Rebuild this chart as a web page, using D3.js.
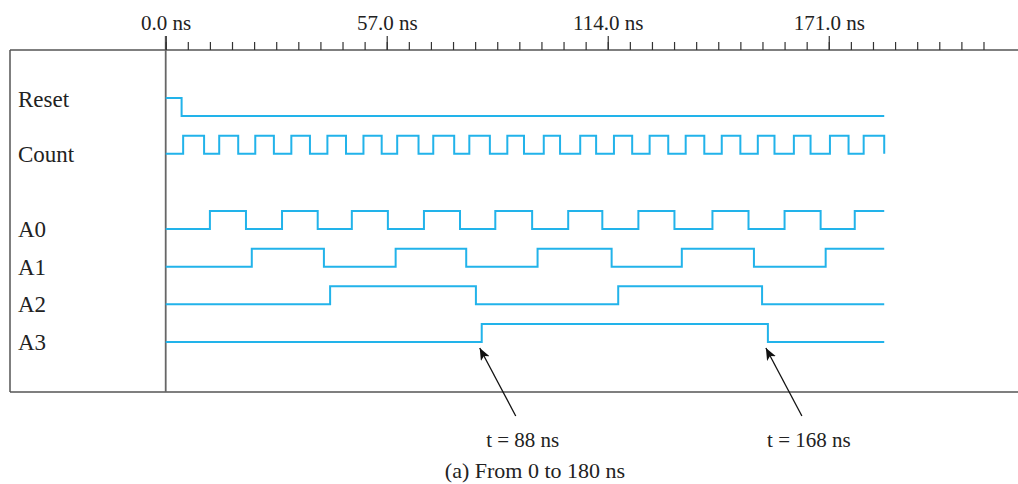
<!DOCTYPE html>
<html>
<head>
<meta charset="utf-8">
<script src="https://cdn.jsdelivr.net/npm/d3@7"></script>
<style>
  html, body { margin: 0; padding: 0; background: #fff; }
  svg { display: block; font-family: "Liberation Serif", "Times New Roman", serif; }
</style>
</head>
<body>
<svg id="chart" width="1018" height="484"></svg>
<script>
// ---- data (times in ns in axis units) ----
const signalNames = ["Reset", "Count", "A0", "A1", "A2", "A3"];
const rowSlots = ["Reset", "Count", "", "A0", "A1", "A2", "A3"];
const endTime = 185.3;

const resetInit = 1;
const resetEdges = [4.1];

const countInit = 0;
const countEdges = [4.5, 9.9, 13.8, 18.7, 23.1, 27.9, 32.4, 37.2, 41.7, 46.5, 51.0, 55.7,
  59.7, 65.2, 69.0, 74.4, 78.3, 83.6, 88.1, 92.4, 97.5, 101.7, 106.9, 111.0, 115.6, 120.3,
  124.8, 129.6, 134.1, 138.9, 143.4, 148.2, 152.7, 157.0, 162.0, 166.3, 171.3, 176.1, 180.0, 185.3];

const a0Init = 0;
const a0Edges = [11.4, 20.7, 30.0, 39.2, 48.0, 57.3, 66.6, 75.9, 85.0, 94.5, 103.8, 112.6,
  121.9, 131.2, 141.0, 150.3, 159.6, 168.9, 177.7];

const a1Init = 0;
const a1Edges = [22.2, 40.8, 59.3, 77.5, 95.9, 115.0, 133.1, 151.7, 170.2];

const a2Init = 0;
const a2Edges = [42.4, 80.0, 116.7, 153.8];

const a3Init = 0;
const a3Edges = [81.5, 155.3];

const majorTicks = [0, 57, 114, 171];
const majorTickLabels = ["0.0 ns", "57.0 ns", "114.0 ns", "171.0 ns"];
const minorTicks = d3.range(0, 38).map(i => +(i * 5.7).toFixed(1));

const annotationLabels = ["t = 88 ns", "t = 168 ns"];
const annotationEdgeIndex = [0, 1]; // edges of A3 they point at
const caption = "(a) From 0 to 180 ns";

// ---- drawing ----
const svg = d3.select("#chart");
const W = 1018;
const frameLeft = 10, frameTop = 50, frameBottom = 392;
const wave = "#22b3ea";
const ink = "#222";
const frameColor = "#555";

const x = d3.scaleLinear().domain([0, 219.8]).range([165.7, 1018]);
const row = d3.scalePoint().domain(rowSlots).range([116, 342]);
const amp = 18;

// frame
svg.append("line").attr("x1", frameLeft).attr("x2", W).attr("y1", frameTop).attr("y2", frameTop)
  .attr("stroke", frameColor).attr("stroke-width", 1.5);
svg.append("line").attr("x1", frameLeft).attr("x2", W).attr("y1", frameBottom).attr("y2", frameBottom)
  .attr("stroke", frameColor).attr("stroke-width", 1.5);
svg.append("line").attr("x1", frameLeft).attr("x2", frameLeft).attr("y1", frameTop).attr("y2", frameBottom)
  .attr("stroke", frameColor).attr("stroke-width", 1.5);
svg.append("line").attr("x1", x(0)).attr("x2", x(0)).attr("y1", 36).attr("y2", frameBottom)
  .attr("stroke", "#666").attr("stroke-width", 1.8);

// axes
const minorAxis = d3.axisTop(x).tickValues(minorTicks).tickSize(8).tickFormat("");
const gMinor = svg.append("g").attr("transform", `translate(0,${frameTop})`).call(minorAxis);
gMinor.select(".domain").remove();
gMinor.selectAll(".tick line").attr("stroke", "#333").attr("stroke-width", 1.2);

const majorAxis = d3.axisTop(x).tickValues(majorTicks).tickSize(14).tickPadding(6)
  .tickFormat((d, i) => majorTickLabels[i]);
const gMajor = svg.append("g").attr("transform", `translate(0,${frameTop})`).call(majorAxis);
gMajor.select(".domain").remove();
gMajor.selectAll(".tick line").attr("stroke", "#333").attr("stroke-width", 1.2);
gMajor.selectAll(".tick text").attr("font-family", "Liberation Serif, Times New Roman, serif")
  .attr("font-size", 21).attr("fill", ink);

// signals
const signals = [
  { name: "Reset", init: resetInit, edges: resetEdges },
  { name: "Count", init: countInit, edges: countEdges },
  { name: "A0", init: a0Init, edges: a0Edges },
  { name: "A1", init: a1Init, edges: a1Edges },
  { name: "A2", init: a2Init, edges: a2Edges },
  { name: "A3", init: a3Init, edges: a3Edges }
];

function toPoints(s) {
  let v = s.init;
  const pts = [[0, v]];
  s.edges.forEach(t => { v = 1 - v; pts.push([t, v]); });
  if (pts[pts.length - 1][0] < endTime) pts.push([endTime, v]);
  return pts;
}

signals.forEach(s => {
  const base = row(s.name);
  const line = d3.line().x(d => x(d[0])).y(d => base - d[1] * amp).curve(d3.curveStepAfter);
  svg.append("path").attr("d", line(toPoints(s)))
    .attr("fill", "none").attr("stroke", wave).attr("stroke-width", 2);
  svg.append("text").attr("x", 18).attr("y", base + (s.name === "Reset" ? -9 : 8))
    .attr("font-size", 23).attr("fill", ink).text(s.name);
});

// annotations
const defs = svg.append("defs");
defs.append("marker").attr("id", "arrow").attr("viewBox", "0 0 12 10")
  .attr("refX", 12).attr("refY", 5).attr("markerWidth", 12).attr("markerHeight", 10)
  .attr("markerUnits", "userSpaceOnUse").attr("orient", "auto")
  .append("path").attr("d", "M0,0 L12,5 L0,10 L3,5 Z").attr("fill", "#111");

const a3Base = row("A3");
annotationLabels.forEach((lab, i) => {
  const ex = x(a3Edges[annotationEdgeIndex[i]]);
  const tipX = ex - 2, tipY = a3Base + 6;
  const tailX = ex + 34, tailY = 416;
  svg.append("line").attr("x1", tailX).attr("y1", tailY).attr("x2", tipX).attr("y2", tipY)
    .attr("stroke", "#111").attr("stroke-width", 1.3).attr("marker-end", "url(#arrow)");
  svg.append("text").attr("x", tailX + 7).attr("y", 447).attr("text-anchor", "middle")
    .attr("font-size", 21).attr("fill", ink).text(lab);
});

svg.append("text").attr("x", 535).attr("y", 478).attr("text-anchor", "middle")
  .attr("font-size", 22).attr("fill", ink).text(caption);
</script>
</body>
</html>
